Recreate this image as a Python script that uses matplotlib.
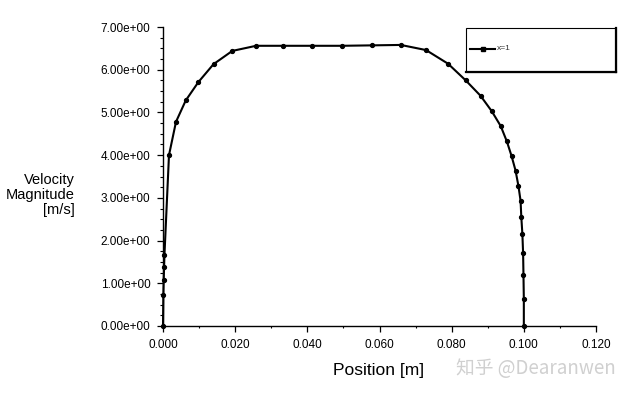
import matplotlib
matplotlib.use("Agg")
import matplotlib.pyplot as plt
from matplotlib.ticker import MultipleLocator, FuncFormatter
from matplotlib.patches import Rectangle
from matplotlib.lines import Line2D

plt.rcParams['font.family'] = ['Liberation Sans', 'DejaVu Sans']

# Data
position = [0.0, 0.0001, 0.0002, 0.0003, 0.0004, 0.00166, 0.0036, 0.0063, 0.0098,
            0.0140, 0.0192, 0.0258, 0.0332, 0.0412, 0.0495, 0.0578, 0.0659,
            0.0729, 0.0790, 0.0839, 0.0880, 0.0911, 0.0936, 0.0953, 0.0966,
            0.0977, 0.0985, 0.0991, 0.0993, 0.0996, 0.0998, 0.0999, 0.1000, 0.1000]
velocity = [0.0, 0.73, 1.08, 1.38, 1.66, 4.00, 4.78, 5.28, 5.71,
            6.13, 6.44, 6.56, 6.56, 6.56, 6.56, 6.57, 6.58,
            6.46, 6.14, 5.75, 5.39, 5.03, 4.68, 4.32, 3.98,
            3.64, 3.28, 2.93, 2.55, 2.15, 1.70, 1.19, 0.63, 0.0]
series_label = "x=1"
x_label = "Position [m]"
y_label = "Velocity\nMagnitude\n[m/s]"
watermark = "知乎 @Dearanwen"

W, H = 633, 394
fig = plt.figure(figsize=(W / 100, H / 100), dpi=100)
ax = fig.add_axes([163 / W, (H - 326) / H, (596 - 163) / W, (326 - 27) / H])

ax.plot(position, velocity, color='black', lw=1.5, marker='o', markersize=2.8,
        clip_on=False, zorder=3)

ax.set_xlim(0, 0.12)
ax.set_ylim(0, 7)
ax.xaxis.set_major_locator(MultipleLocator(0.02))
ax.xaxis.set_minor_locator(MultipleLocator(0.01))
ax.yaxis.set_major_locator(MultipleLocator(1.0))
ax.yaxis.set_minor_locator(MultipleLocator(0.25))
ax.xaxis.set_major_formatter(FuncFormatter(lambda v, p: f"{v:.3f}"))
ax.yaxis.set_major_formatter(FuncFormatter(lambda v, p: f"{v:.2e}"))

for s in ['top', 'right']:
    ax.spines[s].set_visible(False)
for s in ['left', 'bottom']:
    ax.spines[s].set_linewidth(1.0)
    ax.spines[s].set_color('black')

ax.tick_params(axis='both', which='major', direction='out', length=4, width=0.9,
               labelsize=8.5, colors='black', pad=5)
ax.tick_params(axis='both', which='minor', direction='out', length=2.5, width=0.8)
ax.tick_params(axis='x', which='minor', length=1.5)

fig.text(75 / W, 1 - 195 / H, y_label, ha='right', va='center', fontsize=10.5,
         linespacing=1.05)
fig.text(379 / W, 1 - 370 / H, x_label, ha='center', va='center', fontsize=12.5)

# Legend box
lx0, lx1, ly0, ly1 = 466, 616, 28, 72
fig.patches.append(Rectangle((lx0 / W, 1 - ly1 / H), (lx1 - lx0) / W, (ly1 - ly0) / H,
                             transform=fig.transFigure, fill=False, ec='black', lw=0.8))
fig.lines.append(Line2D([lx1 / W, lx1 / W], [1 - ly0 / H, 1 - ly1 / H],
                        transform=fig.transFigure, color='black', lw=1.6))
fig.lines.append(Line2D([lx0 / W, lx1 / W], [1 - ly1 / H, 1 - ly1 / H],
                        transform=fig.transFigure, color='black', lw=1.6))
fig.lines.append(Line2D([470 / W, 495 / W], [1 - 49 / H, 1 - 49 / H],
                        transform=fig.transFigure, color='black', lw=1.5))
fig.lines.append(Line2D([482.5 / W], [1 - 49 / H], transform=fig.transFigure,
                        color='black', marker='s', markersize=3, lw=0))
fig.text(497 / W, 1 - 49 / H, series_label, ha='left', va='center', fontsize=6,
         color='#333333')

fig.text(536 / W, 1 - 369 / H, watermark, ha='center', va='center', fontsize=13.5,
         color='#d0d0d0', family=['Noto Sans CJK SC', 'DejaVu Sans'])

fig.savefig("out.png", dpi=100)
